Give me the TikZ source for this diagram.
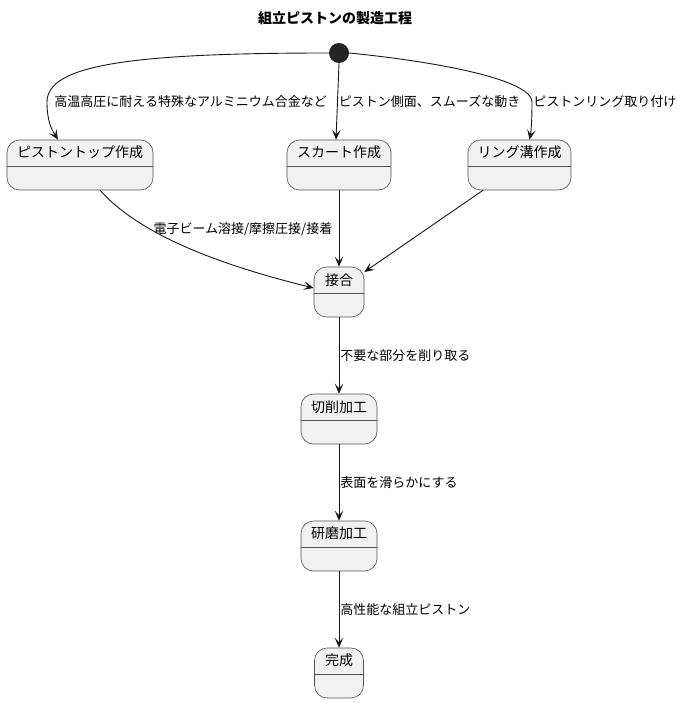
\documentclass[tikz,border=0pt]{standalone}
\usepackage{fontspec}
\setmainfont{Noto Sans CJK JP}
\usetikzlibrary{arrows.meta}
\definecolor{stfill}{HTML}{F1F1F1}
\definecolor{stline}{HTML}{181818}
\tikzset{
  state/.style={rectangle, rounded corners=12.5pt, draw=stline!75, fill=stfill,
    line width=0.6pt, minimum height=50pt, inner sep=0pt,
    path picture={\draw[stline!75, line width=0.6pt]
      ([yshift=-26pt]path picture bounding box.north west) --
      ([yshift=-26pt]path picture bounding box.north east) ;}},
  sttitle/.style={anchor=center, yshift=-13pt, inner sep=0pt,
    font=\fontsize{14}{16}\selectfont},
  trans/.style={draw=stline, line width=0.9pt,
    -{Stealth[length=10pt,width=8.5pt,inset=4.5pt]}},
  translabel/.style={anchor=west, inner sep=1pt, font=\fontsize{13}{15}\selectfont},
}
\begin{document}
\begin{tikzpicture}[x=1pt,y=-1pt]
  \useasboundingbox (0,0) rectangle (682,703) ;
  \node[font=\bfseries\fontsize{14}{16}\selectfont] (title) at (335,18) {組立ピストンの製造工程} ;
  \node[circle, fill=stline!95, minimum size=20pt, inner sep=0pt] (start) at (339,53) {} ;
  % states
  \node[state, minimum width=146pt, label={[sttitle]north:ピストントップ作成}] (top) at (80,165) {} ;
  \node[state, minimum width=104pt, label={[sttitle]north:スカート作成}] (skirt) at (339,165) {} ;
  \node[state, minimum width=103pt, label={[sttitle]north:リング溝作成}] (ring) at (519.5,165) {} ;
  \node[state, minimum width=50pt, label={[sttitle]north:接合}] (join) at (339,292) {} ;
  \node[state, minimum width=76pt, label={[sttitle]north:切削加工}] (cut) at (339,419) {} ;
  \node[state, minimum width=76pt, label={[sttitle]north:研磨加工}] (polish) at (339,546) {} ;
  \node[state, minimum width=49pt, label={[sttitle]north:完成}] (done) at (339,673) {} ;
  % transitions
  \draw[trans] (start.west) .. controls (130,53) and (47,65) .. (47,102)
    node[translabel, xshift=6pt] {高温高圧に耐える特殊なアルミニウム合金など}
    .. controls (47,122) and (52,130) .. ([xshift=-22pt]top.north) ;
  \draw[trans] (start.south) -- ([xshift=-3pt]skirt.north)
    node[midway, translabel] {ピストン側面、スムーズな動き} ;
  \draw[trans] (start.east) .. controls (440,62) and (532,80) .. (532,102)
    node[translabel] {ピストンリング取り付け}
    .. controls (532,122) and (531,132) .. ([xshift=10pt]ring.north) ;
  \draw[trans] ([xshift=20pt]top.south) .. controls (140,235) and (220,265) .. ([yshift=4pt]join.west)
    node[pos=0.3, translabel, xshift=6pt, yshift=-2pt] {電子ビーム溶接/摩擦圧接/接着} ;
  \draw[trans] (skirt.south) -- (join.north) ;
  \draw[trans] ([xshift=-36.5pt]ring.south) -- ([yshift=20pt]join.east) ;
  \draw[trans] (join.south) -- (cut.north)
    node[midway, translabel] {不要な部分を削り取る} ;
  \draw[trans] (cut.south) -- (polish.north)
    node[midway, translabel] {表面を滑らかにする} ;
  \draw[trans] (polish.south) -- (done.north)
    node[midway, translabel] {高性能な組立ピストン} ;
\end{tikzpicture}
\end{document}
